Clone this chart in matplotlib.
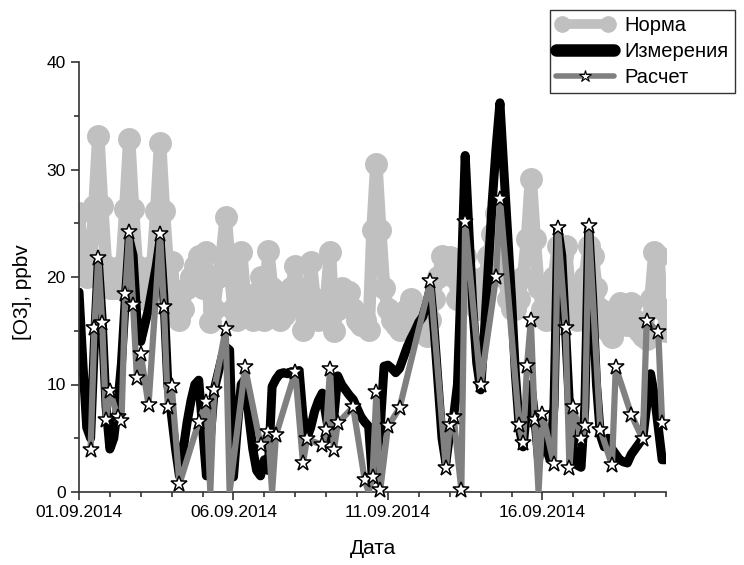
import matplotlib
matplotlib.use('Agg')
import matplotlib.pyplot as plt
import matplotlib.dates as mdates
from matplotlib.lines import Line2D
from matplotlib.legend_handler import HandlerLine2D
from matplotlib.ticker import MultipleLocator
import numpy as np

plt.rcParams['font.family'] = ['Liberation Sans', 'DejaVu Sans']

start = np.datetime64('2014-09-01T00:00')
end = np.datetime64('2014-09-20T00:00')

# 3-hourly grid for Норма and Измерения (hours since 01.09.2014 00:00)
grid_hours = np.arange(0, 457, 3)

norma = [
    26, 21, 20, 21, 26.6, 33.1, 26.6, 21,
    19, 19, 19, 21, 26.3, 32.8, 26.3, 21,
    19, 18, 19, 21, 26.1, 32.5, 26.1, 21,
    21.4, 17, 16, 17, 19, 20, 21, 22,
    19, 22.3, 15.8, 17, 20, 22, 25.6, 21,
    17, 16, 22.3, 18, 17, 16, 18.5, 20,
    16, 22.4, 19, 17, 16, 16.5, 18, 19,
    21, 18, 15.1, 17, 21.4, 18, 16, 16.5,
    18, 22.3, 15, 17, 19, 18, 18.6, 17,
    16, 15.5, 16, 15.1, 24.4, 30.5, 24.4, 19,
    17, 16, 15.5, 15.1, 16, 17, 18, 17,
    16, 15, 14.5, 16, 18, 20, 22, 21,
    21.9, 20, 18, 20, 22, 20, 18, 17,
    18, 20, 22, 24, 26, 24, 20, 18,
    17, 17, 18, 20, 23.5, 29.1, 23.5, 19,
    17, 16, 18, 20, 22.9, 22, 22.9, 19,
    17, 16, 17, 20, 22.9, 22, 19, 17,
    16, 15, 14.4, 17, 17.6, 16, 15.5, 17.6,
    16, 15, 14.5, 14.2, 18, 22.3, 22, 17,
    15,
]

meas = [
    18.6, 12, 6, 5, 14, 21.5, 16, 8,
    4, 5, 8, 12, 18, 23.5, 22, 16,
    14, 15.5, 17, 19, 21, 23.5, 18, 10,
    7, 4, 1.5, 4, 6.5, 8.5, 10, 10.4,
    6, 1.5, 5, 9.5, 11, 12.5, 13.5, 13.2,
    1.4, 6, 10, 10.5, 7, 4, 2, 1.5,
    3, 2, 9.8, 10.5, 11, 11.1, 11, 11.2,
    11.1, 11.3, 7, 5, 6, 7.5, 8.5, 9.2,
    7, 5, 7, 10.8, 10, 9.5, 9, 8.6,
    7.8, 7, 6.5, 6.1, 1.1, 3, 6, 11.7,
    11.8, 11.5, 11.1, 11.5, 12.5, 13.5, 14.3, 15,
    15.8, 16.3, 17.5, 19, 15, 10, 5, 2.7,
    5.5, 7, 10, 20, 31.3, 24, 17, 12,
    9.5, 15, 21, 27, 32, 36.2, 30, 24,
    18, 11, 6, 4.2, 8, 10, 7, 3,
    5, 4, 3, 8, 24.5, 22, 15, 8,
    4, 2.5, 2.3, 8, 24.5, 18, 10, 5.3,
    4.2, 5, 4, 3.5, 3, 2.8, 2.7, 3.5,
    4, 4.5, 5, 8, 11, 9, 6, 3,
    3,
]

# Расчет: hours since start and values
calc_hours = [
    9, 12, 15, 18, 21, 24, 30, 33, 36, 39, 42, 45, 48, 54, 63, 66, 69, 72,
    78, 93, 99, 102, 105, 114, 117, 129, 141, 147, 150, 153, 168, 174, 177,
    189, 192, 195, 198, 201, 213, 222, 225, 228, 231, 234, 240, 249, 273,
    285, 288, 291, 297, 300, 312, 324, 327, 342, 345, 348, 351, 354, 357,
    360, 369, 372, 378, 381, 384, 390, 393, 396, 405, 414, 417, 429, 438,
    441, 450, 453,
]
calc = [
    3.9, 15.3, 21.8, 15.7, 6.7, 9.4, 7.0, 6.6, 18.4, 24.2, 17.4, 10.6, 12.8,
    8.1, 24.0, 17.2, 7.9, 9.9, 0.75, 6.5, 8.4, 0, 9.5, 15.2, 0, 11.6, 4.4,
    5.6, 0, 5.3, 11.2, 2.7, 4.9, 4.4, 5.8, 11.4, 3.9, 6.4, 7.9, 1.1, 0, 1.4,
    9.3, 0.2, 6.1, 7.8, 19.6, 2.2, 6.2, 7.0, 0.2, 25.1, 10.0, 20.0, 27.3,
    6.2, 4.6, 11.7, 16.0, 6.7, 0, 7.3, 2.6, 24.6, 15.3, 2.2, 7.9, 4.9, 6.1,
    24.7, 5.8, 2.5, 11.6, 7.2, 4.9, 15.9, 14.9, 6.4,
]

grid_t = start + grid_hours.astype('timedelta64[h]')
calc_t = start + np.array(calc_hours).astype('timedelta64[h]')
calc = np.array(calc)
star_mask = calc > 0

fig = plt.figure(figsize=(7.44, 5.65), dpi=100)
ax = fig.add_axes([79 / 744, 73 / 565, 587 / 744, 430 / 565])

c_norma = '#c0c0c0'
c_calc = '#808080'

ax.plot(grid_t, norma, color=c_norma, lw=9, marker='o', ms=15.5, mec=c_norma,
        solid_joinstyle='round', solid_capstyle='round', zorder=1)
ax.plot(grid_t, meas, color='black', lw=6.5,
        solid_joinstyle='round', solid_capstyle='round', zorder=2)
ax.plot(calc_t, calc, color=c_calc, lw=4.5,
        solid_joinstyle='round', solid_capstyle='round', zorder=3)
ax.plot(calc_t[star_mask], calc[star_mask], ls='none', marker='*', ms=12,
        mfc='white', mec='black', mew=1.1, clip_on=False, zorder=4)

ax.set_xlim(start, end)
ax.set_ylim(0, 40)
ax.xaxis.set_major_locator(mdates.DayLocator(bymonthday=[1, 6, 11, 16]))
ax.xaxis.set_minor_locator(mdates.DayLocator())
ax.xaxis.set_major_formatter(mdates.DateFormatter('%d.%m.%Y'))
ax.yaxis.set_major_locator(MultipleLocator(10))
ax.yaxis.set_minor_locator(MultipleLocator(5))

for s in ['top', 'right']:
    ax.spines[s].set_visible(False)
for s in ['left', 'bottom']:
    ax.spines[s].set_linewidth(1.2)
    ax.spines[s].set_color('#333333')
ax.tick_params(which='major', direction='out', length=6, width=1.2,
               labelsize=12.5, color='#333333')
ax.tick_params(which='minor', direction='out', length=3.5, width=1.2,
               color='#333333')

ax.set_xlabel('Дата', fontsize=15)
ax.xaxis.set_label_coords(0.5, -0.11)
ax.set_ylabel('[O3], ppbv', fontsize=15)
ax.yaxis.set_label_coords(-0.08, 0.465)

h_norma = Line2D([], [], color=c_norma, lw=7, marker='o', ms=11, mec=c_norma,
                 solid_capstyle='round')
h_meas = Line2D([], [], color='black', lw=9, solid_capstyle='round')
h_calc = Line2D([], [], color=c_calc, lw=4, marker='*', ms=9, mfc='white',
                mec='black', mew=0.8, solid_capstyle='round')
leg = fig.legend([h_norma, h_meas, h_calc], ['Норма', 'Измерения', 'Расчет'],
                 loc='upper left', bbox_to_anchor=(550 / 744, 1 - 10 / 565),
                 bbox_transform=fig.transFigure, fontsize=14.5, frameon=True,
                 fancybox=False, edgecolor='#333333', framealpha=1,
                 borderpad=0.3, labelspacing=0.35, handlelength=2.9,
                 handletextpad=0.5, borderaxespad=0,
                 handler_map={h_norma: HandlerLine2D(numpoints=2),
                              h_calc: HandlerLine2D(numpoints=1)})
leg.get_frame().set_linewidth(1.0)

fig.savefig('out.png', dpi=100)
